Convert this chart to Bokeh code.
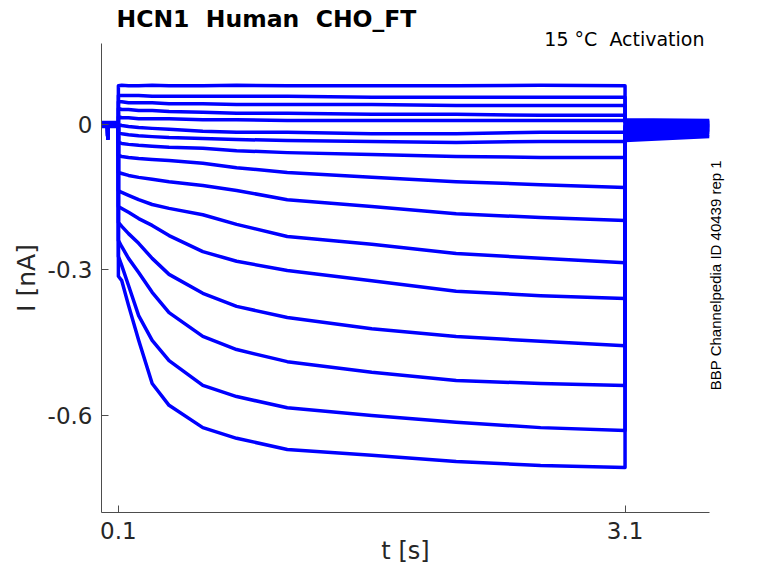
from bokeh.plotting import figure
from bokeh.models import Range1d, FixedTicker, LinearAxis, Title
from bokeh.embed import file_html
from bokeh.resources import INLINE
import math

# ---- data (nA vs s) ----
# holding period before the step (s)
t_pre = [0.0, 0.036, 0.037, 0.039, 0.040, 0.100]
pre_spike = -0.028
pre_level = [0.004, 0.003, 0.003, 0.002, 0.002, 0.001, 0.001, 0.000,
             0.000, -0.001, -0.001, -0.002, -0.002, -0.003, -0.003, -0.004]

# test pulse samples (s)
t_step = [0.10, 0.12, 0.16, 0.22, 0.30, 0.40, 0.60, 0.80, 1.10, 1.60, 2.10, 2.60, 3.10]

I_step = [
    [0.080, 0.081, 0.080, 0.080, 0.081, 0.080, 0.080, 0.081, 0.080, 0.080, 0.080, 0.081, 0.080],
    [0.060, 0.060, 0.060, 0.060, 0.058, 0.058, 0.058, 0.058, 0.058, 0.056, 0.056, 0.056, 0.056],
    [0.047, 0.047, 0.045, 0.045, 0.045, 0.043, 0.043, 0.041, 0.041, 0.041, 0.039, 0.039, 0.039],
    [0.033, 0.031, 0.031, 0.029, 0.029, 0.027, 0.025, 0.023, 0.023, 0.021, 0.021, 0.019, 0.019],
    [0.016, 0.014, 0.014, 0.012, 0.012, 0.012, 0.010, 0.010, 0.008, 0.008, 0.008, 0.008, 0.008],
    [0.000, -0.002, -0.004, -0.006, -0.008, -0.010, -0.014, -0.016, -0.016, -0.019, -0.019, -0.016, -0.016],
    [-0.016, -0.019, -0.021, -0.023, -0.025, -0.027, -0.029, -0.031, -0.033, -0.035, -0.037, -0.035, -0.035],
    [-0.037, -0.039, -0.041, -0.043, -0.045, -0.047, -0.049, -0.054, -0.058, -0.062, -0.066, -0.068, -0.068],
    [-0.064, -0.066, -0.068, -0.070, -0.072, -0.074, -0.080, -0.089, -0.099, -0.109, -0.118, -0.124, -0.130],
    [-0.099, -0.101, -0.105, -0.109, -0.113, -0.118, -0.126, -0.136, -0.155, -0.169, -0.184, -0.192, -0.198],
    [-0.136, -0.140, -0.146, -0.155, -0.165, -0.173, -0.186, -0.206, -0.231, -0.247, -0.266, -0.276, -0.285],
    [-0.169, -0.173, -0.181, -0.194, -0.208, -0.229, -0.262, -0.282, -0.301, -0.322, -0.344, -0.353, -0.359],
    [-0.202, -0.210, -0.225, -0.245, -0.276, -0.309, -0.348, -0.375, -0.398, -0.421, -0.437, -0.447, -0.456],
    [-0.239, -0.252, -0.276, -0.305, -0.346, -0.388, -0.437, -0.464, -0.489, -0.511, -0.528, -0.534, -0.538],
    [-0.272, -0.291, -0.332, -0.394, -0.445, -0.487, -0.538, -0.561, -0.584, -0.600, -0.614, -0.625, -0.631],
    [-0.313, -0.322, -0.373, -0.445, -0.534, -0.579, -0.625, -0.647, -0.670, -0.682, -0.695, -0.703, -0.707],
]

# tail after the pulse (s)
t_tail = [3.10, 3.60]
tail_start = [0.010, 0.008, 0.006, 0.004, 0.002, 0.000, -0.002, -0.004,
              -0.008, -0.010, -0.014, -0.016, -0.021, -0.025, -0.029, -0.033]
tail_end = [0.008, 0.006, 0.004, 0.002, 0.000, -0.002, -0.002, -0.004,
            -0.006, -0.008, -0.010, -0.012, -0.014, -0.016, -0.021, -0.025]

x_ticks = [0.1, 3.1]
x_tick_labels = ["0.1", "3.1"]
y_ticks = [-0.6, -0.3, 0.0]
y_tick_labels = ["-0.6", "-0.3", "0"]

NB = "\u00a0"
title_text = "HCN1" + NB + " Human" + NB + " CHO_FT"
corner_text = "15 °C" + NB + " Activation"
side_text = "BBP Channelpedia ID 40439 rep 1"
side_pos = -0.548
x_label = "t [s]"
y_label = "I [nA]"

# ---- figure ----
p = figure(width=762, height=567, output_backend="svg", toolbar_location=None,
           title=None,
           x_range=Range1d(0.0, 3.6), y_range=Range1d(-0.8, 0.167),
           min_border_left=101, min_border_right=53, min_border_top=43,
           min_border_bottom=55)
p.outline_line_color = None
p.xgrid.visible = False
p.ygrid.visible = False
p.background_fill_color = "white"
p.border_fill_color = "white"

for k in range(len(I_step)):
    lv = pre_level[k]
    xs = t_pre + t_step + t_tail
    ys = [lv, lv, pre_spike, pre_spike, lv, lv] + I_step[k] + [tail_start[k], tail_end[k]]
    p.line(xs, ys, line_color="#0000ff", line_width=3.5, line_join="round")

axis_col = "#4d4d4d"
for ax in (p.xaxis[0], p.yaxis[0]):
    ax.axis_line_color = axis_col
    ax.major_tick_line_color = axis_col
    ax.major_tick_in = 7
    ax.major_tick_out = 0
    ax.minor_tick_line_color = None
    ax.major_label_text_font = "DejaVu Sans"
    ax.major_label_text_font_size = "23px"
    ax.major_label_text_color = "#262626"
    ax.major_label_standoff = 9
    ax.axis_label_text_font = "DejaVu Sans"
    ax.axis_label_text_font_style = "normal"
    ax.axis_label_text_color = "#262626"

p.xaxis.ticker = FixedTicker(ticks=x_ticks)
p.xaxis.major_label_overrides = {v: s for v, s in zip(x_ticks, x_tick_labels)}
p.xaxis.axis_label = x_label
p.xaxis.axis_label_text_font_size = "24px"
p.xaxis.axis_label_standoff = -5

p.yaxis.ticker = FixedTicker(ticks=y_ticks)
p.yaxis.major_label_overrides = {v: s for v, s in zip(y_ticks, y_tick_labels)}
p.yaxis.axis_label = y_label
p.yaxis.axis_label_text_font_size = "25px"
p.yaxis.axis_label_standoff = 4

# side note as a rotated label on a bare right axis
side_axis = LinearAxis(ticker=FixedTicker(ticks=[side_pos]),
                       major_label_overrides={side_pos: side_text})
side_axis.axis_line_color = None
side_axis.major_tick_line_color = None
side_axis.minor_tick_line_color = None
side_axis.major_tick_in = 0
side_axis.major_tick_out = 0
side_axis.major_label_orientation = math.pi / 2
side_axis.major_label_standoff = 6
side_axis.major_label_text_font = "Liberation Sans"
side_axis.major_label_text_font_size = "15px"
side_axis.major_label_text_color = "black"
p.add_layout(side_axis, "right")

# titles: corner note closest to the frame, main title above it
p.add_layout(Title(text=corner_text, align="right", offset=5, standoff=-13,
                   text_font="DejaVu Sans", text_font_size="19px",
                   text_font_style="normal", text_color="black"), "above")
p.add_layout(Title(text=title_text, align="left", offset=15, standoff=-1,
                   text_font="DejaVu Sans", text_font_size="23.5px",
                   text_font_style="bold", text_color="black"), "above")

open("out.html", "w").write(file_html(p, INLINE))
